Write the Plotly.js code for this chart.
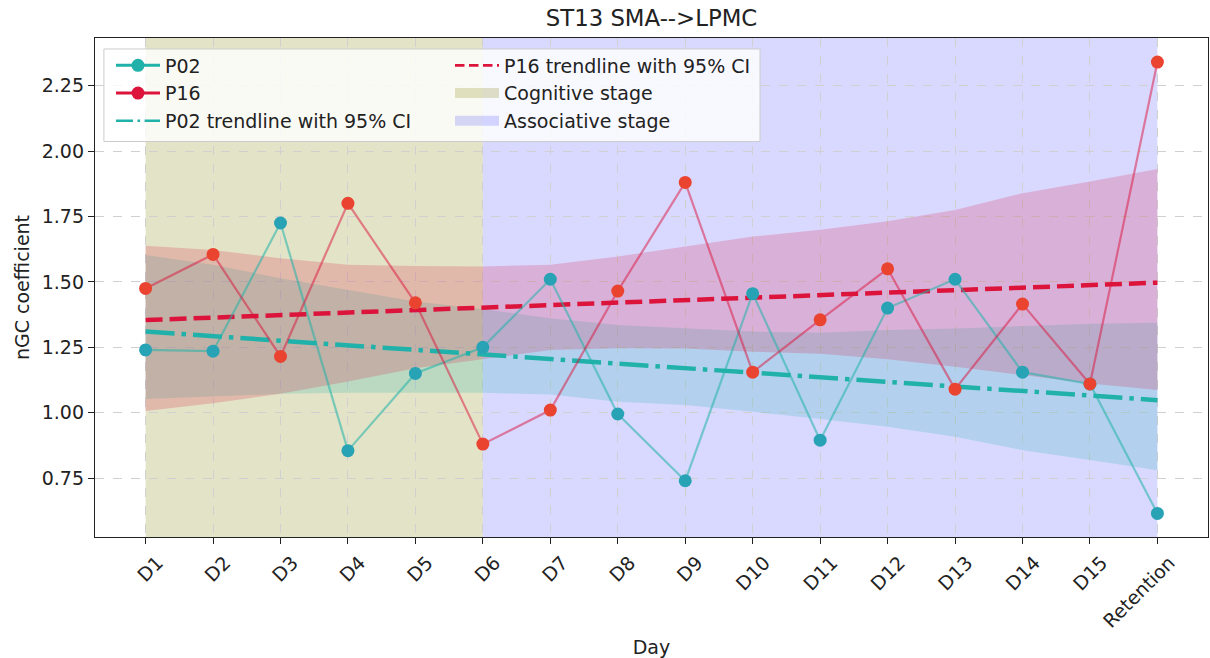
<!DOCTYPE html>
<html>
<head>
<meta charset="utf-8">
<script src="https://cdn.plot.ly/plotly-3.0.1.min.js"></script>
<style>html,body{margin:0;padding:0;background:#fff;}#chart{width:1210px;height:658px;}</style>
</head>
<body>
<div id="chart"></div>
<script>
// ---- data ----
const days = ['D1','D2','D3','D4','D5','D6','D7','D8','D9','D10','D11','D12','D13','D14','D15','Retention'];
const p02 = [1.24,1.235,1.725,0.855,1.15,1.25,1.51,0.995,0.74,1.455,0.895,1.40,1.51,1.155,1.11,0.615];
const p16 = [1.475,1.605,1.215,1.80,1.42,0.88,1.01,1.465,1.88,1.155,1.355,1.55,1.09,1.415,1.11,2.34];
// trendline end values (first day, last day)
const trendDays = ['D1','Retention'];
const p02Trend = [1.31,1.048];
const p16Trend = [1.354,1.497];
// 95% CI bands per day
const p02Upper = [1.603,1.565,1.514,1.469,1.425,1.396,1.361,1.335,1.323,1.310,1.306,1.316,1.322,1.332,1.340,1.344];
const p02Lower = [1.052,1.061,1.072,1.076,1.077,1.076,1.070,1.042,1.029,1.004,0.976,0.946,0.908,0.857,0.819,0.780];
const p16Upper = [1.638,1.622,1.590,1.565,1.561,1.559,1.565,1.597,1.635,1.673,1.699,1.732,1.775,1.839,1.884,1.931];
const p16Lower = [1.007,1.036,1.072,1.119,1.170,1.205,1.240,1.246,1.245,1.233,1.225,1.204,1.176,1.144,1.112,1.087];
// stages
const stageNames = ['Cognitive stage','Associative stage'];
const stageStart = ['D1','D6'];
const stageEnd = ['D6','Retention'];
const yTicks = [0.75,1.00,1.25,1.50,1.75,2.00,2.25];

// ---- styles ----
const FONT = 'DejaVu Sans, sans-serif';
const FS = 19;
const teal = '#20b2aa', crimson = '#dc143c';
const stageFill = ['rgba(128,128,0,0.22)','rgba(0,0,255,0.15)'];
const NOPT = [null];

const traces = [
  // CI bands
  {x: days, y: p02Lower, mode:'lines', line:{width:0, color:'rgba(0,0,0,0)'}, showlegend:false, hoverinfo:'skip'},
  {x: days, y: p02Upper, mode:'lines', line:{width:0, color:'rgba(0,0,0,0)'}, fill:'tonexty', fillcolor:'rgba(32,178,170,0.2)', showlegend:false, hoverinfo:'skip'},
  {x: days, y: p16Lower, mode:'lines', line:{width:0, color:'rgba(0,0,0,0)'}, showlegend:false, hoverinfo:'skip'},
  {x: days, y: p16Upper, mode:'lines', line:{width:0, color:'rgba(0,0,0,0)'}, fill:'tonexty', fillcolor:'rgba(220,20,60,0.2)', showlegend:false, hoverinfo:'skip'},
  // trendlines
  {x: trendDays, y: p02Trend, mode:'lines', showlegend:false, line:{color:teal, width:4.5, dash:'29px,7px,4.5px,7px'}},
  {x: trendDays, y: p16Trend, mode:'lines', showlegend:false, line:{color:crimson, width:4.5, dash:'17px,7px'}},
  // series lines
  {x: days, y: p02, mode:'lines', showlegend:false, line:{color:'rgba(32,178,170,0.55)', width:2.2}},
  {x: days, y: p16, mode:'lines', showlegend:false, line:{color:'rgba(220,20,60,0.5)', width:2.2}},
  {x: days, y: p02, mode:'markers', showlegend:false, marker:{color:'#27a3b5', size:13}},
  {x: days, y: p16, mode:'markers', showlegend:false, marker:{color:'#ea4430', size:13}},
  // legend entries
  {x: NOPT, y: NOPT, mode:'lines+markers', name:'P02', legend:'legend', legendrank:1, line:{color:teal, width:3}, marker:{color:teal, size:13}},
  {x: NOPT, y: NOPT, mode:'lines+markers', name:'P16', legend:'legend', legendrank:2, line:{color:crimson, width:3}, marker:{color:crimson, size:13}},
  {x: NOPT, y: NOPT, mode:'lines', name:'P02 trendline with 95% CI', legend:'legend', legendrank:3, line:{color:teal, width:2.6, dash:'17px,4.5px,2.6px,4.5px'}},
  {x: NOPT, y: NOPT, mode:'lines', name:'P16 trendline with 95% CI', legend:'legend2', legendrank:1, line:{color:crimson, width:2.6, dash:'9.5px,4.5px'}}
];
stageNames.forEach((nm,i)=>traces.push({x: NOPT, y: NOPT, mode:'lines', name:nm, legend:'legend2', legendrank:2+i,
  line:{color: stageFill[i], width:17}}));

const shapes = stageNames.map((nm,i)=>({
  type:'rect', xref:'x', yref:'paper', x0: days.indexOf(stageStart[i]), x1: days.indexOf(stageEnd[i]),
  y0:0, y1:1, fillcolor: stageFill[i], line:{width:0}, layer:'below'
}));
// legend frame
shapes.push({type:'rect', xref:'paper', yref:'paper', x0:0.008, x1:0.5975, y0:0.7926, y1:0.978,
  fillcolor:'rgba(255,255,255,0.8)', line:{color:'#cccccc', width:1}, layer:'above'});

const legendBase = {bgcolor:'rgba(0,0,0,0)', borderwidth:0, font:{family:FONT, size:FS, color:'#222'},
  xanchor:'left', yanchor:'top', traceorder:'normal', itemwidth:44, tracegroupgap:0};

const layout = {
  width:1210, height:658,
  margin:{l:95, r:2, t:38, b:121},
  paper_bgcolor:'#fff', plot_bgcolor:'#fff',
  font:{family:FONT, size:FS, color:'#222'},
  title:{text:'ST13 SMA-->LPMC', font:{family:FONT, size:22.8, color:'#222'}, x:0.5, xref:'paper', xanchor:'center',
         y:1-18/658, yref:'container', yanchor:'middle'},
  xaxis:{type:'category', categoryorder:'array', categoryarray:days, range:[-0.75,15.75],
    showline:true, mirror:true, linecolor:'#222', linewidth:1.2, ticks:'outside', ticklen:6, tickcolor:'#222',
    tickangle:-45, ticklabelshift:12, showgrid:true, gridcolor:'#d0d0d0', griddash:'dash', gridwidth:1, zeroline:false,
    tickfont:{family:FONT, size:FS, color:'#222'},
    title:{text:'Day', font:{family:FONT, size:FS, color:'#222'}, standoff:17}},
  yaxis:{range:[0.525,2.432], tickvals:yTicks, tickformat:'.2f',
    showline:true, mirror:true, linecolor:'#222', linewidth:1.2, ticks:'outside', ticklen:6, tickcolor:'#222',
    showgrid:true, gridcolor:'#d0d0d0', griddash:'dash', gridwidth:1, zeroline:false,
    tickfont:{family:FONT, size:FS, color:'#222'},
    title:{text:'nGC coefficient', font:{family:FONT, size:FS, color:'#222'}, standoff:7}},
  shapes: shapes,
  legend: Object.assign({}, legendBase, {x:(111-95)/1113, y:0.983}),
  legend2: Object.assign({}, legendBase, {x:(450-95)/1113, y:0.983}),
  showlegend:true
};

Plotly.newPlot('chart', traces, layout, {displayModeBar:false, staticPlot:true});
</script>
</body>
</html>
